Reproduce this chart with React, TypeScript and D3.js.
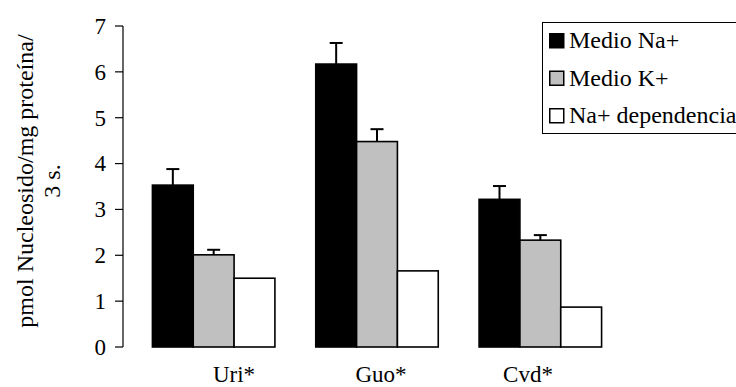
import React from 'react'
import * as d3 from 'd3'

const categories = ['Uri*', 'Guo*', 'Cvd*']
const series = ['Medio Na+', 'Medio K+', 'Na+ dependencia']
const medioNa = [3.53, 6.17, 3.22]
const medioNaErr = [0.35, 0.46, 0.29]
const medioK = [2.01, 4.48, 2.33]
const medioKErr = [0.11, 0.27, 0.11]
const naDependencia = [1.5, 1.66, 0.87]
const yTicks = [0, 1, 2, 3, 4, 5, 6, 7]

const colors = ['#000000', '#c0c0c0', '#ffffff']
const font = 'Liberation Serif'

const values = [medioNa, medioK, naDependencia]
const errors = [medioNaErr, medioKErr, null]

const width = 736
const height = 387

export default function App() {
  const y = d3.scaleLinear().domain([0, 7]).range([347, 26])
  const x0 = d3.scaleBand().domain(categories).range([132, 622]).paddingInner(0.25).paddingOuter(0.125)
  const x1 = d3.scaleBand().domain(series).range([0, x0.bandwidth()])
  // category labels sit a bit off the group centres in the original
  const xLabel = d3.scalePoint().domain(categories).range([234, 528])
  const axisX = 123

  return (
    <svg width={width} height={height} style={{ position: 'absolute', left: 0, top: 0 }}>
      <rect width={width} height={height} fill="#fff" />

      {/* y axis */}
      <line x1={axisX} x2={axisX} y1={y(7)} y2={y(0)} stroke="#000" strokeWidth={1.2} />
      {yTicks.map(t => (
        <g key={t}>
          <line x1={axisX - 8} x2={axisX} y1={y(t)} y2={y(t)} stroke="#000" strokeWidth={1.2} />
          <text x={axisX - 17} y={y(t)} dy="0.34em" textAnchor="end" fontSize={23} fontFamily={font}>{t}</text>
        </g>
      ))}

      <g transform="translate(0,181) rotate(-90)">
        <text x={0} y={33} textAnchor="middle" fontSize={24} fontFamily={font}>pmol Nucleosido/mg proteína/</text>
        <text x={0} y={60} textAnchor="middle" fontSize={24} fontFamily={font}>3 s.</text>
      </g>

      {/* bars */}
      {categories.map((c, ci) => (
        <g key={c} transform={`translate(${x0(c)},0)`}>
          {series.map((s, si) => {
            const v = values[si][ci]
            const bx = x1(s)!
            const bw = x1.bandwidth()
            const err = errors[si]
            return (
              <g key={s}>
                {err && (
                  <g stroke="#000" strokeWidth={2}>
                    <line x1={bx + bw / 2} x2={bx + bw / 2} y1={y(v)} y2={y(v + err[ci])} />
                    <line x1={bx + bw / 2 - 6.5} x2={bx + bw / 2 + 6.5} y1={y(v + err[ci])} y2={y(v + err[ci])} />
                  </g>
                )}
                <rect x={bx} y={y(v)} width={bw} height={y(0) - y(v)} fill={colors[si]} stroke="#000" strokeWidth={1.6} />
              </g>
            )
          })}
        </g>
      ))}

      {categories.map(c => (
        <text key={c} x={xLabel(c)} y={382} textAnchor="middle" fontSize={23} fontFamily={font}>{c}</text>
      ))}

      {/* legend */}
      <rect x={542.5} y={22.5} width={210} height={111} fill="#fff" stroke="#000" strokeWidth={1} />
      {series.map((s, i) => (
        <g key={s} transform={`translate(549,${33 + i * 37.5})`}>
          <rect x={0.75} y={0.75} width={14} height={14} fill={colors[i]} stroke="#000" strokeWidth={1.5} />
          <text x={20} y={15} fontSize={24} fontFamily={font}>{s}</text>
        </g>
      ))}
    </svg>
  )
}
